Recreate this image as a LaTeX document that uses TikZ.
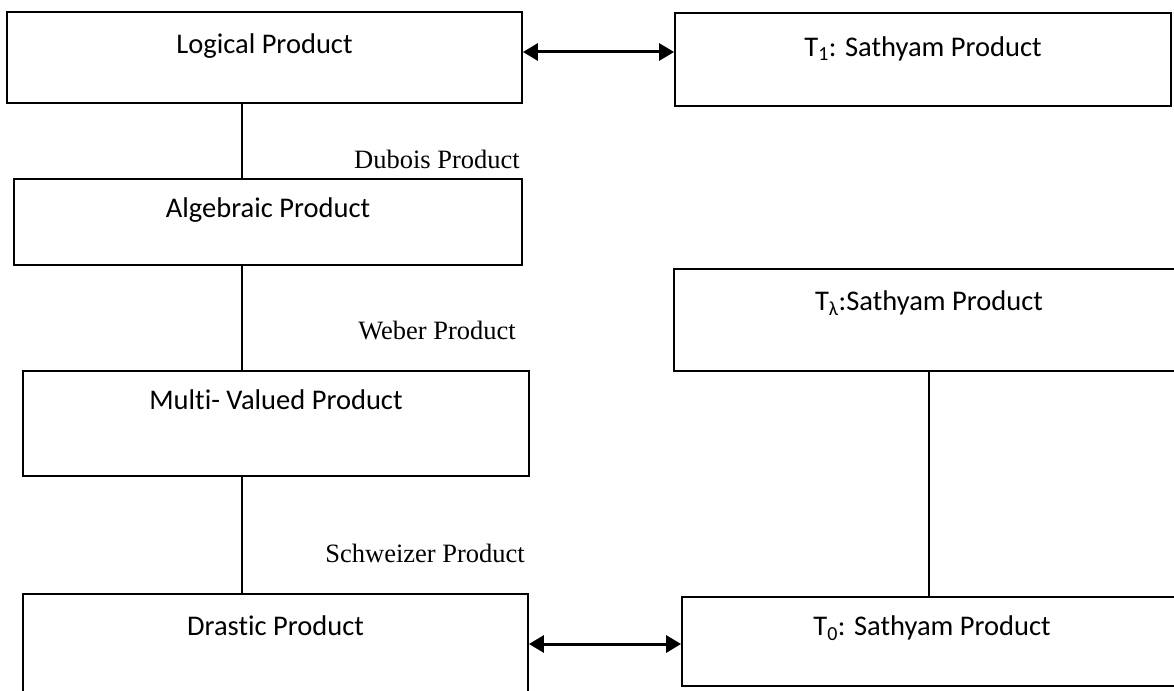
\documentclass[tikz,border=0pt]{standalone}
\usepackage{fontspec}
\setmainfont{Liberation Serif}
\newfontfamily\boxfont[Ligatures=NoCommon]{Carlito}
\usetikzlibrary{arrows.meta}

\begin{document}
\begin{tikzpicture}[x=1pt, y=-1pt,
		prodbox/.style={draw, line width=1.8pt, inner sep=0pt},
		boxtext/.style={font=\boxfont\fontsize{28.5}{34}\selectfont, inner sep=0pt, anchor=center},
		linklabel/.style={font=\fontsize{26.5}{32}\selectfont, inner sep=0pt, anchor=east},
		link/.style={line width=1.8pt},
		biarrow/.style={{Triangle[length=15pt,width=17pt]}-{Triangle[length=15pt,width=17pt]}, line width=3pt}]
		\useasboundingbox (0,0) rectangle (1174,690);
		\clip (0,0) rectangle (1174,690);
		% left column
		\node[prodbox, minimum width=515pt, minimum height=91pt, label={[boxtext, yshift=-35pt]north:Logical Product}] (logical) at (264.5,57.5) {};
		\node[prodbox, minimum width=508pt, minimum height=86pt, label={[boxtext, yshift=-32pt]north:Algebraic Product}] (algebraic) at (268,222) {};
		\node[prodbox, minimum width=506pt, minimum height=105pt, label={[boxtext, yshift=-30pt]north:Multi- Valued Product}] (multivalued) at (276,423.5) {};
		\node[prodbox, minimum width=505pt, minimum height=100pt, label={[boxtext, yshift=-33pt]north:Drastic Product}] (drastic) at (275.5,644) {};
		% right column
		\node[prodbox, minimum width=496pt, minimum height=93pt, label={[boxtext, yshift=-37pt]north:T\textsubscript{1}: Sathyam Product}] (tone) at (923,59.5) {};
		\node[prodbox, minimum width=510pt, minimum height=102pt, label={[boxtext, yshift=-35pt]north:T\textsubscript{λ}:Sathyam Product}] (tlambda) at (929,320) {};
		\node[prodbox, minimum width=500pt, minimum height=89pt, label={[boxtext, yshift=-32pt]north:T\textsubscript{0}: Sathyam Product}] (tzero) at (932,641.5) {};
		% links
		\coordinate (lspine) at (242,0);
		\coordinate (rspine) at (929,0);
		\draw[link] (logical.south -| lspine) -- (algebraic.north -| lspine);
		\draw[link] (algebraic.south -| lspine) -- (multivalued.north -| lspine);
		\draw[link] (multivalued.south -| lspine) -- (drastic.north -| lspine);
		\draw[link] (tlambda.south -| rspine) -- (tzero.north -| rspine);
		\draw[biarrow] ([yshift=5.5pt]logical.east) -- ([yshift=5.5pt]logical.east -| tone.west);
		\draw[biarrow] (drastic.east) -- (drastic.east -| tzero.west);
		% labels
		\node[linklabel] (dubois) at (520,159) {Dubois Product};
		\node[linklabel] (weber) at (516,331) {Weber Product};
		\node[linklabel] (schweizer) at (525,553) {Schweizer Product};
	\end{tikzpicture}
\end{document}
